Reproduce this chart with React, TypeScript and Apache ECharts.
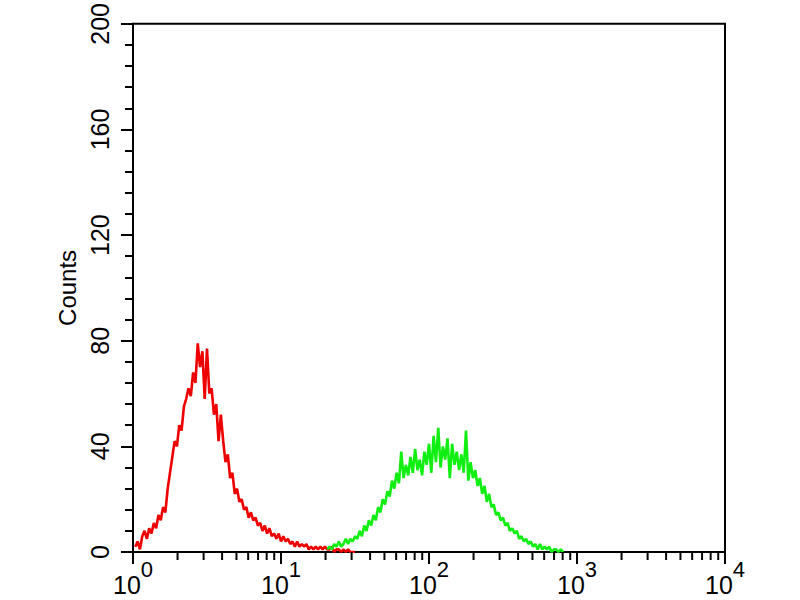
import React, { useEffect, useRef } from "react";
import * as echarts from "echarts";

// Histogram channels: 64 channels per decade on a 4-decade log scale
const channelsPerDecade = 64;
const redStartChannel = 1;
const redCounts = [
  2, 4, 1, 6, 8, 5, 9, 7, 11, 9,
  14, 12, 17, 15, 24, 30, 36, 42, 40, 48,
  46, 55, 58, 62, 59, 68, 64, 79, 70, 76,
  58, 77, 60, 62, 52, 56, 42, 52, 42, 34,
  37, 28, 30, 22, 24, 19, 20, 16, 17, 13,
  15, 12, 13, 10, 11, 8, 10, 7, 9, 6,
  7, 5, 7, 4, 6, 4, 5, 3, 4, 2,
  4, 2, 3, 2, 3, 1, 2, 1, 2, 1,
  2, 1, 2, 1, 1, 2, 0, 1, 1, 0,
  1, 0, 1, 0, 0, 0,
];
const greenStartChannel = 84;
const greenCounts = [
  1, 2, 1, 3, 2, 4, 2, 3, 5, 3,
  5, 4, 6, 5, 8, 6, 10, 8, 12, 10,
  14, 12, 17, 15, 20, 18, 23, 21, 27, 24,
  30, 26, 38, 28, 33, 29, 36, 30, 39, 31,
  35, 29, 38, 33, 41, 30, 44, 34, 47, 32,
  40, 35, 43, 28, 41, 33, 38, 31, 37, 30,
  46, 27, 34, 28, 31, 25, 28, 22, 25, 19,
  22, 17, 18, 14, 15, 12, 13, 10, 11, 8,
  9, 7, 8, 5, 6, 4, 5, 3, 4, 2,
  3, 1, 3, 1, 2, 1, 2, 0, 1, 1,
  0, 1, 0,
];
const xMin = 1;
const xMax = 10000;
const yTicks = [0, 40, 80, 120, 160, 200];
const xMinorTickValues = [
  2, 3, 4, 5, 6, 7, 8, 9,
  20, 30, 40, 50, 60, 70, 80, 90,
  200, 300, 400, 500, 600, 700, 800, 900,
  2000, 3000, 4000, 5000, 6000, 7000, 8000, 9000,
];
const yAxisName = "Counts";

const FONT = "Liberation Sans, Arial, sans-serif";

function toSeries(start: number, counts: number[]) {
  return counts.map((c, i) => [Math.pow(10, (start + i) / channelsPerDecade), c]);
}

export default function App() {
  const ref = useRef<HTMLDivElement>(null);
  useEffect(() => {
    if (!ref.current) return;
    const chart = echarts.init(ref.current, null, { renderer: "svg" });
    chart.setOption({
      animation: false,
      backgroundColor: "#fff",
      grid: {
        left: 133,
        right: 75,
        top: 21,
        bottom: 48,
        show: true,
        borderColor: "#000",
        borderWidth: 2,
        backgroundColor: "transparent",
      },
      xAxis: {
        type: "log",
        logBase: 10,
        min: xMin,
        max: xMax,
        axisLine: { show: true, lineStyle: { color: "#000", width: 2 } },
        axisTick: { show: true, inside: false, length: 12, lineStyle: { color: "#000", width: 2 } },
        splitLine: { show: false },
        axisLabel: {
          margin: 6,
          color: "#000",
          fontFamily: FONT,
          formatter: (v: number) => `{b|10}{s|${Math.round(Math.log10(v))}}`,
          rich: {
            b: { fontSize: 25, fontFamily: FONT, color: "#000" },
            s: { fontSize: 22, fontFamily: FONT, color: "#000", padding: [0, 0, 31, 0] },
          },
        },
      },
      yAxis: {
        type: "value",
        min: yTicks[0],
        max: yTicks[yTicks.length - 1],
        interval: yTicks[1] - yTicks[0],
        name: yAxisName,
        nameLocation: "middle",
        nameGap: 52,
        nameRotate: 90,
        nameTextStyle: { fontSize: 24, fontFamily: FONT, color: "#000" },
        axisLine: { show: true, lineStyle: { color: "#000", width: 2 } },
        axisTick: { show: true, inside: false, length: 12, lineStyle: { color: "#000", width: 2 } },
        minorTick: { show: true, splitNumber: 5, length: 8, lineStyle: { color: "#000", width: 2 } },
        splitLine: { show: false },
        minorSplitLine: { show: false },
        axisLabel: {
          rotate: 90,
          margin: 21,
          fontSize: 25,
          fontFamily: FONT,
          color: "#000",
        },
      },
      series: [
        {
          type: "line",
          data: toSeries(redStartChannel, redCounts),
          showSymbol: false,
          lineStyle: { color: "#ee0000", width: 2.6 },
          itemStyle: { color: "#ee0000" },
          z: 2,
        },
        {
          type: "line",
          data: toSeries(greenStartChannel, greenCounts),
          showSymbol: false,
          lineStyle: { color: "#11ee11", width: 2.6 },
          itemStyle: { color: "#11ee11" },
          z: 3,
        },
        {
          type: "custom",
          clip: false,
          silent: true,
          data: xMinorTickValues.map((v) => [v, 0]),
          renderItem: (_params: any, api: any) => {
            const p = api.coord([api.value(0), 0]);
            return {
              type: "line",
              shape: { x1: p[0], y1: p[1], x2: p[0], y2: p[1] + 8 },
              style: { stroke: "#000", lineWidth: 2 },
            };
          },
          z: 4,
        },
      ],
    });
    return () => chart.dispose();
  }, []);
  return (
    <div
      ref={ref}
      style={{ position: "fixed", left: 0, top: 0, width: 800, height: 600, background: "#fff" }}
    />
  );
}
